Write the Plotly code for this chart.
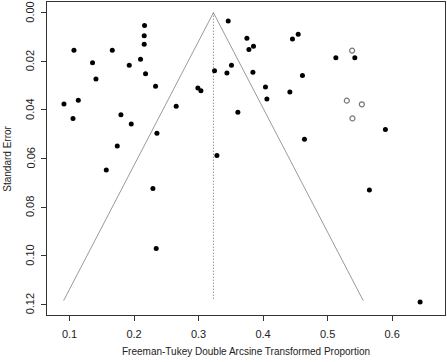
import plotly.graph_objects as go

# Observed studies (filled)
obs_x = [0.1068, 0.1662, 0.1356, 0.1925, 0.2100, 0.2162, 0.2157, 0.2157, 0.2178, 0.1409,
         0.0913, 0.1135, 0.1053, 0.1796, 0.1956, 0.1739, 0.1569, 0.2333, 0.3459, 0.3749,
         0.3780, 0.3851, 0.3510, 0.3247, 0.3439, 0.3842, 0.2989, 0.3036, 0.4037, 0.4415,
         0.4059, 0.2653, 0.3609, 0.2354, 0.3284, 0.4455, 0.4544, 0.5128, 0.5422, 0.4610,
         0.5896, 0.4641, 0.2292, 0.2343, 0.5648, 0.6434]
obs_se = [0.0155, 0.0155, 0.0206, 0.0216, 0.0192, 0.0053, 0.0095, 0.0130, 0.0251, 0.0273,
          0.0376, 0.0360, 0.0435, 0.0420, 0.0458, 0.0549, 0.0647, 0.0303, 0.0034, 0.0105,
          0.0151, 0.0138, 0.0216, 0.0239, 0.0248, 0.0245, 0.0310, 0.0321, 0.0306, 0.0326,
          0.0355, 0.0385, 0.0410, 0.0496, 0.0588, 0.0108, 0.0089, 0.0185, 0.0185, 0.0258,
          0.0481, 0.0521, 0.0723, 0.0970, 0.0730, 0.1191]

# Imputed studies (trim-and-fill, hollow)
fill_x = [0.5380, 0.5298, 0.5531, 0.5385]
fill_se = [0.0156, 0.0362, 0.0377, 0.0435]

pooled = 0.323
max_se = 0.1185
z = 1.96

x_ticks = [0.1, 0.2, 0.3, 0.4, 0.5, 0.6]
y_ticks = [0.00, 0.02, 0.04, 0.06, 0.08, 0.10, 0.12]
y_tick_labels = ["0.00", "0.02", "0.04", "0.06", "0.08", "0.10", "0.12"]

fig = go.Figure()

fig.add_trace(go.Scatter(
    x=[pooled - z * max_se, pooled, pooled + z * max_se],
    y=[max_se, 0, max_se],
    mode="lines", line=dict(color="#9a9a9a", width=1), hoverinfo="skip"))
fig.add_trace(go.Scatter(
    x=[pooled, pooled], y=[0, max_se],
    mode="lines", line=dict(color="#666666", width=1, dash="1px,2px"), hoverinfo="skip"))
fig.add_trace(go.Scatter(
    x=obs_x, y=obs_se, mode="markers",
    marker=dict(color="black", size=5, line=dict(width=0))))
fig.add_trace(go.Scatter(
    x=fill_x, y=fill_se, mode="markers",
    marker=dict(color="white", size=5, line=dict(color="#777777", width=1.2))))

tick_font = dict(family="Liberation Sans, Arial", size=11, color="#222222")
axis_common = dict(showline=True, mirror=True, linecolor="#333333", linewidth=1,
                   ticks="outside", ticklen=5, tickcolor="#333333", showgrid=False,
                   zeroline=False, automargin=False, tickfont=tick_font)

annotations = [
    dict(text="Freeman-Tukey Double Arcsine Transformed Proportion", xref="paper", yref="paper",
         x=0.5, y=-0.117, yanchor="middle", xanchor="center", showarrow=False,
         font=dict(family="Liberation Sans, Arial", size=10, color="#222222")),
    dict(text="Standard Error", xref="paper", yref="paper", x=-0.1, y=0.5,
         xanchor="center", yanchor="middle", textangle=-90, showarrow=False,
         font=dict(family="Liberation Sans, Arial", size=10, color="#222222")),
]
for v, lab in zip(y_ticks, y_tick_labels):
    annotations.append(dict(text=lab, xref="paper", yref="y", x=0, y=v, xshift=-17,
                            xanchor="center", yanchor="middle", textangle=-90,
                            showarrow=False, font=tick_font))

fig.update_layout(
    width=447, height=362,
    margin=dict(l=47, r=2, t=2, b=47),
    plot_bgcolor="white", paper_bgcolor="white",
    showlegend=False,
    xaxis=dict(range=[0.065, 0.682], tickvals=x_ticks, ticktext=[f"{v:.1f}" for v in x_ticks],
               ticklabelstandoff=4, **axis_common),
    yaxis=dict(range=[0.1244, -0.0044], tickvals=y_ticks, showticklabels=False, **axis_common),
    annotations=annotations,
)

fig.write_html("out.html", config={"displayModeBar": False},
               post_script="document.body.style.margin='0';document.body.style.padding='0';document.body.style.overflow='hidden';")
